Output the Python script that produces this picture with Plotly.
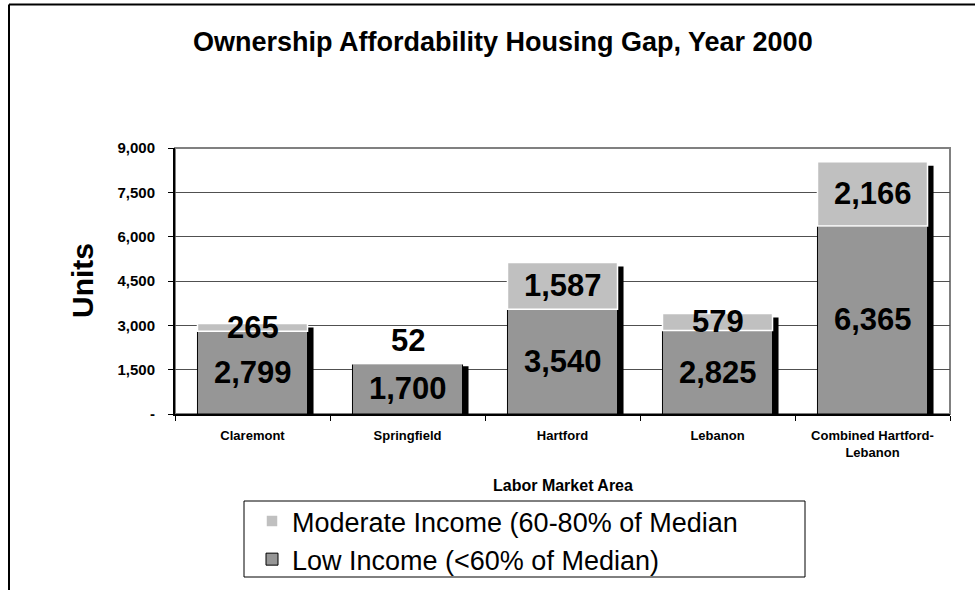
import plotly.graph_objects as go

# ---------------- data ----------------
categories = ["Claremont", "Springfield", "Hartford", "Lebanon", "Combined Hartford-<br>Lebanon"]
low_income = [2799, 1700, 3540, 2825, 6365]
moderate_income = [265, 52, 1587, 579, 2166]
ytick_vals = [0, 1500, 3000, 4500, 6000, 7500, 9000]
ytick_text = ["-", "1,500", "3,000", "4,500", "6,000", "7,500", "9,000"]
low_name = "Low Income (<60% of Median)"
mod_name = "Moderate Income (60-80% of Median"

# ---------------- layout geometry ----------------
W, H = 975, 590
PL, PR, PT, PB = 175, 25, 148, 176
plot_w = W - PL - PR
plot_h = H - PT - PB
YMAX = 9000
FONT = "Liberation Sans, Arial, Helvetica, sans-serif"


def px_x(px):
    return (px - PL) / plot_w


def px_y(py):
    return (H - PB - py) / plot_h


totals = [l + m for l, m in zip(low_income, moderate_income)]
bar_w = 0.71
shadow_dx = 6 / (plot_w / len(categories))
shadow_dy = 4 * YMAX / plot_h

fig = go.Figure()
# drop shadow
fig.add_trace(go.Bar(
    x=categories, y=[t - shadow_dy for t in totals], width=bar_w,
    offset=-bar_w / 2 + shadow_dx, marker=dict(color="black", line=dict(width=0)),
    showlegend=False, hoverinfo="skip"))
fig.add_trace(go.Bar(
    name=low_name, x=categories, y=low_income, width=bar_w, offset=-bar_w / 2,
    marker=dict(color="#969696", line=dict(color="black", width=1))))
fig.add_trace(go.Bar(
    name=mod_name, x=categories, y=moderate_income, base=low_income, width=bar_w,
    offset=-bar_w / 2, marker=dict(color="#C0C0C0", line=dict(color="white", width=1.5))))

annotations = []
for c, lo, mo in zip(categories, low_income, moderate_income):
    annotations.append(dict(x=c, y=lo / 2, text=f"<b>{lo:,}</b>", showarrow=False,
                            font=dict(family=FONT, size=31, color="black"), yanchor="middle"))
    if mo >= 100:
        annotations.append(dict(x=c, y=lo + mo / 2, text=f"<b>{mo:,}</b>", showarrow=False,
                                font=dict(family=FONT, size=31, color="black"), yanchor="middle"))
    else:
        annotations.append(dict(x=c, y=lo + mo, text=f"<b>{mo:,}</b>", showarrow=False,
                                font=dict(family=FONT, size=31, color="black"),
                                yanchor="bottom", yshift=2))

annotations.append(dict(xref="paper", yref="paper", x=px_x(503), y=px_y(42),
                        text="<b>Ownership Affordability Housing Gap, Year 2000</b>",
                        showarrow=False, font=dict(family=FONT, size=27, color="black"),
                        xanchor="center", yanchor="middle"))
annotations.append(dict(xref="paper", yref="paper", x=px_x(82), y=0.5, text="<b>Units</b>",
                        textangle=-90, showarrow=False,
                        font=dict(family=FONT, size=30, color="black"),
                        xanchor="center", yanchor="middle"))
annotations.append(dict(xref="paper", yref="paper", x=0.5, y=px_y(485),
                        text="<b>Labor Market Area</b>", showarrow=False,
                        font=dict(family=FONT, size=16, color="black"),
                        xanchor="center", yanchor="middle"))

shapes = [
    # plot-area border
    dict(type="rect", xref="paper", yref="paper", x0=0, x1=1, y0=0, y1=1,
         line=dict(color="#808080", width=2), layer="below"),
    # legend box
    dict(type="rect", xref="paper", yref="paper", x0=px_x(244), x1=px_x(805),
         y0=px_y(577), y1=px_y(501), line=dict(color="black", width=1),
         fillcolor="white", layer="below"),
    # outer frame (left and top)
    dict(type="line", xref="paper", yref="paper", x0=px_x(9), x1=px_x(9),
         y0=px_y(592), y1=px_y(4.5), line=dict(color="black", width=2)),
    dict(type="line", xref="paper", yref="paper", x0=px_x(9), x1=px_x(980),
         y0=px_y(4.5), y1=px_y(4.5), line=dict(color="black", width=2)),
]

fig.update_layout(
    width=W, height=H,
    margin=dict(l=PL, r=PR, t=PT, b=PB, pad=0, autoexpand=False),
    paper_bgcolor="white", plot_bgcolor="white",
    barmode="overlay",
    font=dict(family=FONT, color="black"),
    showlegend=True,
    legend=dict(xref="container", yref="container", x=252 / W, y=1 - 497 / H,
                xanchor="left", yanchor="top",
                traceorder="reversed", bgcolor="rgba(0,0,0,0)", borderwidth=0,
                font=dict(family=FONT, size=27, color="black"), tracegroupgap=0),
    annotations=annotations,
    shapes=shapes,
    xaxis=dict(showline=True, linecolor="black", linewidth=2, ticks="outside",
               tickson="boundaries", ticklen=5, tickcolor="black", tickwidth=1,
               showgrid=False, tickfont=dict(family=FONT, size=13, weight="bold"),
               ticklabelstandoff=8, fixedrange=True, automargin=False),
    yaxis=dict(range=[0, YMAX], tickvals=ytick_vals, ticktext=ytick_text,
               showline=True, linecolor="black", linewidth=2, ticks="outside",
               ticklen=5, tickcolor="black", tickwidth=1, showgrid=True,
               gridcolor="#505050", gridwidth=1, zeroline=False,
               ticklabelstandoff=10, automargin=False,
               tickfont=dict(family=FONT, size=15, weight="bold"), fixedrange=True),
)

fig.write_html("out.html")
